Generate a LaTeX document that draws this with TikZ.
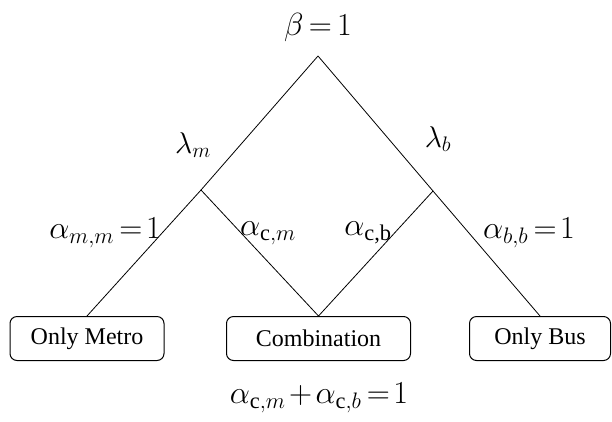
\documentclass[tikz,border=0pt]{standalone}
\usepackage{fix-cm}
\usepackage{fontspec}
\setmainfont{Liberation Serif}
\usepackage{amsmath}
\newcommand{\ctxt}{\textnormal{c}}
\begin{document}
\begin{tikzpicture}[x=1pt,y=-1pt,
    leaf/.style={shape=rectangle, draw=black, line width=1pt, rounded corners=7pt,
      minimum height=44pt, inner sep=0pt, font=\fontsize{24}{28}\selectfont},
    branch/.style={line width=0.8pt}]
\useasboundingbox (0,0) rectangle (612,421);

\coordinate (T) at (318,56);
\coordinate (M) at (201,190);
\coordinate (B) at (433,191);

\node [leaf, minimum width=154pt] (metro) at (87,338.5) {Only Metro};
\node [leaf, minimum width=184pt] (comb) at (318.5,338.5) {Combination};
\node [leaf, minimum width=141pt] (bus) at (540,338.5) {Only Bus};

\path [-, branch] (T) edge (M);
\path [-, branch] (T) edge (B);
\path [-, branch] (M) edge (metro.north);
\path [-, branch] (M) edge (comb.north);
\path [-, branch] (B) edge (comb.north);
\path [-, branch] (B) edge (bus.north);

\node [font=\fontsize{32}{36}\selectfont] (beta) at (318,27) {$\beta\,{=}\,1$};
\node [font=\fontsize{30}{34}\selectfont] (lm) at (193,145) {$\lambda_m$};
\node [font=\fontsize{30}{34}\selectfont] (lb) at (438,139) {$\lambda_b$};
\node [font=\fontsize{32}{36}\selectfont] (amm) at (105,233) {$\alpha_{m,m}\,{=}\mkern2mu 1$};
\node [font=\fontsize{32}{36}\selectfont] (acm) at (268,233) {$\alpha_{\ctxt,m}$};
\node [font=\fontsize{32}{36}\selectfont] (acb) at (368,233) {$\alpha_{\textnormal{c,b}}$};
\node [font=\fontsize{32}{36}\selectfont] (abb) at (529,233) {$\alpha_{b,b}\,{=}\mkern2mu 1$};
\node [font=\fontsize{32}{36}\selectfont] (sum) at (319,398) {$\alpha_{\ctxt,m}\mkern2mu{+}\mkern2mu\alpha_{\ctxt,b}\,{=}\mkern2mu 1$};
\end{tikzpicture}
\end{document}
